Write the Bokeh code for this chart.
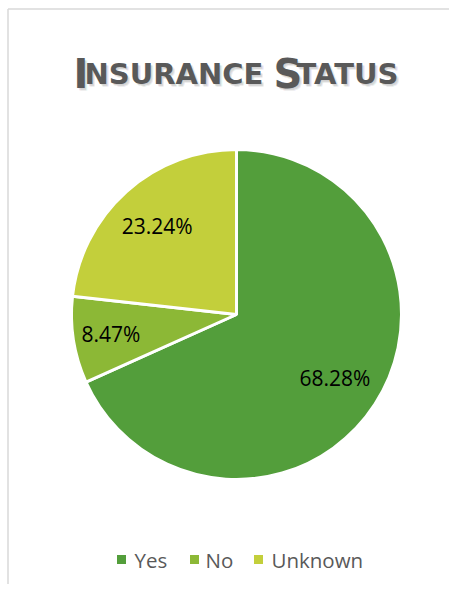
import numpy as np
from bokeh.plotting import figure
from bokeh.models import Range1d
from bokeh.core.properties import value
from bokeh.embed import file_html
from bokeh.resources import INLINE

# ---- data ----
categories = ["Yes", "No", "Unknown"]
shares = [68.28, 8.47, 23.24]
labels = ["68.28%", "8.47%", "23.24%"]
colors = ["#539E3B", "#8CB836", "#C3CF3B"]
title_parts = ["I", "NSURANCE", "S", "TATUS"]

# ---- layout ----
W, H = 449, 584


def px(x):
    return x


def py(y):
    return H - y


p = figure(width=W, height=H, output_backend="svg", toolbar_location=None,
           x_range=Range1d(0, W), y_range=Range1d(0, H), min_border=0)
p.axis.visible = False
p.grid.visible = False
p.outline_line_color = None
p.background_fill_color = "white"
p.border_fill_color = "white"

# chart-area border (top and left visible)
p.segment(x0=[7.5, 7.5], y0=[py(8.5), py(8.5)], x1=[7.5, W], y1=[0, py(8.5)],
          line_color="#D9D9D9", line_width=1.5)

# pie
cx, cy, R = px(236), py(314), 165
frac = np.array(shares) / np.sum(shares)
cum = np.concatenate([[0.0], np.cumsum(frac)])
start = np.pi / 2 - 2 * np.pi * cum[:-1]
end = np.pi / 2 - 2 * np.pi * cum[1:]
p.wedge(x=cx, y=cy, radius=R, start_angle=list(start), end_angle=list(end),
        direction="clock", fill_color=colors, line_color="white", line_width=3)

# data labels
mid = (start + end) / 2
rf = np.array([0.71, 0.77, 0.72]) * R
lx = cx + rf * np.cos(mid)
ly = cy + rf * np.sin(mid)
p.text(x=list(lx), y=list(ly), text=labels, text_align="center", text_baseline="middle",
       text_font=value("Open Sans"), text_font_size="21px", text_color="#000000")

# title (small caps made from pieces), with a soft shadow
tx = [px(73), px(84), px(273), px(296)]
tsize = ["40px", "29px", "40px", "29px"]
tyb = py(73)
for dx, dy in [(1, -1), (2, -2), (3, -3), (2, -3), (3, -2), (1.5, -2.5)]:
    for t, x, s in zip(title_parts, tx, tsize):
        p.text(x=[x + dx], y=[tyb + dy], text=[t], text_align="left", text_baseline="alphabetic",
               text_font=value("DejaVu Sans"), text_font_style="bold", text_font_size=s,
               text_color="#000000", text_alpha=0.035)
for t, x, s in zip(title_parts, tx, tsize):
    p.text(x=[x], y=[tyb], text=[t], text_align="left", text_baseline="alphabetic",
           text_font=value("DejaVu Sans"), text_font_style="bold", text_font_size=s,
           text_color="#595959")

# legend
sq_x = [px(121), px(194), px(258)]
lt_x = [px(134), px(205), px(271)]
ly_leg = py(559)
p.scatter(x=sq_x, y=[ly_leg] * 3, marker="square", size=9, fill_color=colors, line_color=None)
p.text(x=lt_x, y=[ly_leg] * 3, text=categories, text_align="left", text_baseline="middle",
       text_font=value("Open Sans"), text_font_size="20.5px", text_color="#595959")

open("out.html", "w").write(file_html(p, INLINE))
